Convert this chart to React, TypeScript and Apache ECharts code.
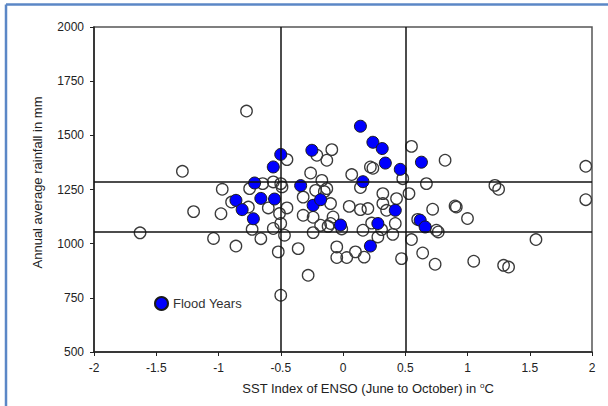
import React, { useEffect, useRef } from "react";
import * as echarts from "echarts";

// Flood years (filled blue)
const floodSst = [0.14, 0.24, 0.315, 0.34, 0.46, 0.63, 0.16, -0.25, -0.5, -0.56, -0.71, -0.34, -0.66, -0.55, -0.24, -0.18, 0.42, -0.02, 0.28, 0.22, 0.62, 0.66, -0.72, -0.86, -0.81];
const floodRain = [1542, 1468, 1439, 1372, 1343, 1376, 1286, 1431, 1412, 1354, 1280, 1268, 1209, 1206, 1177, 1203, 1154, 1086, 1093, 989, 1108, 1077, 1115, 1200, 1157];

// Other years (hollow)
const otherSst = [-0.775, -1.29, -0.97, -1.2, -0.98, -1.63, -1.04, -0.86, -0.895, -0.75, -0.645, -0.76, -0.73, -0.66, -0.56, -0.5, -0.49, -0.6, -0.56, -0.52, -0.5, -0.45, -0.45, -0.51, -0.5, -0.47, -0.36, -0.32, -0.32, -0.28, -0.26, -0.21, -0.17, -0.22, -0.13, -0.15, -0.13, -0.09, -0.1, -0.24, -0.24, -0.18, -0.08, -0.1, -0.12, -0.05, -0.05, 0.03, 0.05, 0.07, 0.1, 0.14, 0.14, 0.17, 0.16, 0.2, 0.22, 0.24, 0.23, 0.28, 0.31, 0.32, 0.32, 0.35, 0.4, 0.42, 0.43, 0.47, 0.48, 0.53, 0.55, 0.55, 0.64, 0.6, 0.67, 0.72, 0.75, 0.765, 0.74, 0.82, 0.9, 0.91, 1.0, 1.05, 1.22, 1.25, 1.29, 1.33, 1.55, 1.95, 1.95, -0.01];
const otherRain = [1612, 1334, 1251, 1148, 1138, 1050, 1024, 989, 1192, 1254, 1277, 1169, 1066, 1023, 1285, 1277, 1262, 1165, 1070, 962, 762, 1388, 1165, 1139, 1093, 1039, 977, 1215, 1131, 854, 1326, 1408, 1292, 1246, 1254, 1240, 1385, 1434, 1185, 1122, 1051, 1085, 1123, 1093, 1080, 985, 936, 936, 1172, 1319, 962, 1259, 1157, 938, 1062, 1162, 1354, 1348, 1095, 1031, 1065, 1231, 1185, 1154, 1043, 1093, 1208, 931, 1300, 1231, 1449, 1019, 957, 1112, 1277, 1159, 1062, 1054, 905, 1385, 1174, 1169, 1116, 919, 1269, 1251, 900, 892, 1019, 1357, 1203, 1068];

// Reference lines
const rainLines = [1288, 1054];
const sstLines = [-0.5, 0.5];

export default function App() {
  const ref = useRef<HTMLDivElement>(null);
  useEffect(() => {
    document.body.style.margin = "0";
    if (!ref.current) return;
    const chart = echarts.init(ref.current, undefined, { renderer: "svg" });
    const font = "Liberation Sans, Arial, sans-serif";
    chart.setOption({
      animation: false,
      backgroundColor: "#ffffff",
      textStyle: { fontFamily: font },
      grid: {
        left: 94,
        right: 16,
        top: 27,
        bottom: 54,
        show: true,
        borderColor: "#555",
        borderWidth: 1.5,
      },
      graphic: [
        { type: "line", shape: { x1: 6, y1: 4.5, x2: 608, y2: 4.5 }, style: { stroke: "#5B87C6", lineWidth: 2.5 } },
        { type: "line", shape: { x1: 6, y1: 4.5, x2: 6, y2: 406 }, style: { stroke: "#5B87C6", lineWidth: 2.5 } },
      ],
      legend: {
        left: 149,
        top: 291,
        itemWidth: 13,
        itemHeight: 13,
        itemGap: 6,
        data: [{ name: "Flood Years", icon: "circle" }],
        textStyle: { fontSize: 13, color: "#333", fontFamily: font },
      },
      xAxis: {
        type: "value",
        min: -2,
        max: 2,
        interval: 0.5,
        splitLine: { show: false },
        axisLine: { show: true, onZero: false, lineStyle: { color: "#222", width: 1.5 } },
        axisTick: { show: true, inside: false, length: 4, lineStyle: { color: "#222" } },
        axisLabel: { fontSize: 12, color: "#222", margin: 10, fontFamily: font, formatter: (v: number) => String(v) },
        name: "SST Index of ENSO (June to October) in {sup|o}C",
        nameLocation: "middle",
        nameGap: 29,
        nameTextStyle: {
          fontSize: 13,
          color: "#222",
          fontFamily: font,
          padding: [0, 0, 0, 50],
          rich: { sup: { fontSize: 8, color: "#222", verticalAlign: "top", padding: [0, 0, 6, 0], fontFamily: font } },
        },
      },
      yAxis: {
        type: "value",
        min: 500,
        max: 2000,
        interval: 250,
        splitLine: { show: false },
        axisLine: { show: true, onZero: false, lineStyle: { color: "#222", width: 1.5 } },
        axisTick: { show: true, inside: false, length: 4, lineStyle: { color: "#222" } },
        axisLabel: { fontSize: 12, color: "#222", margin: 10, fontFamily: font, formatter: (v: number) => String(v) },
        name: "Annual average rainfall in mm",
        nameLocation: "middle",
        nameGap: 50,
        nameTextStyle: { fontSize: 13, color: "#222", fontFamily: font, padding: [0, 0, 0, 14] },
      },
      series: [
        {
          name: "Other Years",
          type: "scatter",
          symbol: "circle",
          symbolSize: 11.5,
          data: otherSst.map((x, i) => [x, otherRain[i]]),
          itemStyle: { color: "rgba(255,255,255,0)", borderColor: "#3a3a3a", borderWidth: 1.3, opacity: 1 },
          markLine: {
            silent: true,
            symbol: "none",
            label: { show: false },
            lineStyle: { color: "#111", width: 1.5, type: "solid" },
            data: [
              ...rainLines.map((v) => ({ yAxis: v })),
              ...sstLines.map((v) => ({ xAxis: v })),
            ],
          },
          z: 2,
        },
        {
          name: "Flood Years",
          type: "scatter",
          symbol: "circle",
          symbolSize: 12,
          data: floodSst.map((x, i) => [x, floodRain[i]]),
          itemStyle: { color: "#0000FF", borderColor: "#1a1a1a", borderWidth: 1, opacity: 1 },
          z: 3,
        },
      ],
    });
    return () => chart.dispose();
  }, []);
  return <div ref={ref} style={{ width: 608, height: 406 }} />;
}
